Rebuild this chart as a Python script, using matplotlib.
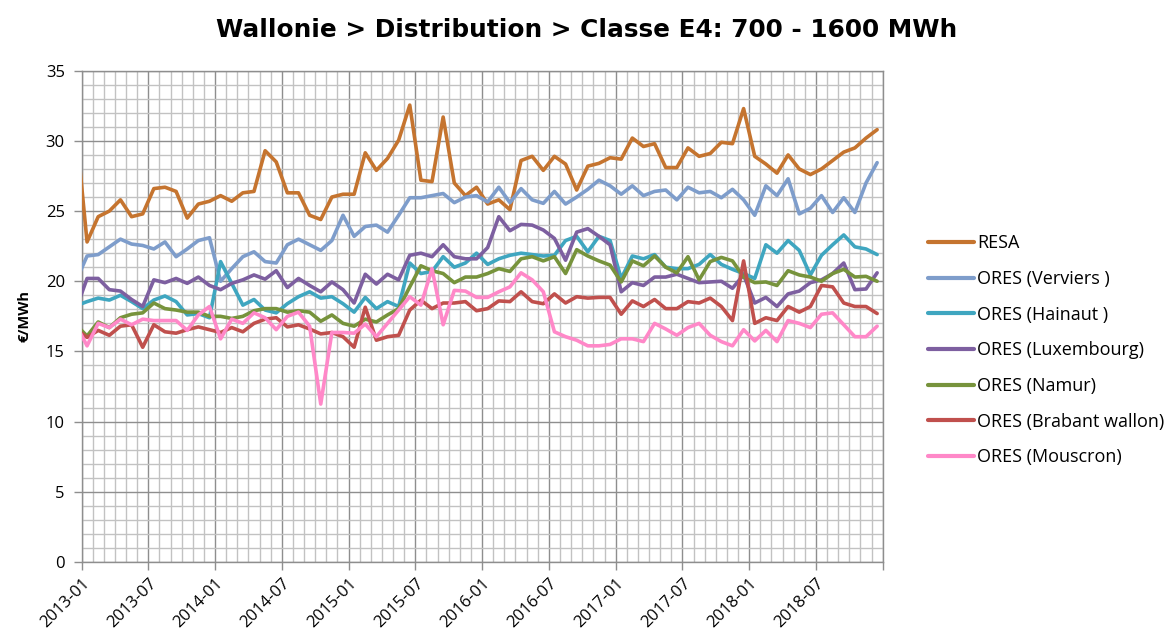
import numpy as np
import matplotlib
matplotlib.use("Agg")
import matplotlib.pyplot as plt
from matplotlib.ticker import MultipleLocator, FixedLocator

plt.rcParams['font.family'] = ['Open Sans', 'DejaVu Sans']

# Monthly values, 2012-12 .. 2018-12 (first value only enters from the left edge)
months = [f"{y}-{m:02d}" for y in range(2013, 2019) for m in range(1, 13)]
tick_labels = ["2013-01", "2013-07", "2014-01", "2014-07", "2015-01", "2015-07",
               "2016-01", "2016-07", "2017-01", "2017-07", "2018-01", "2018-07", ""]

resa = [31.0,
        22.8, 24.6, 25.0, 25.8, 24.6, 24.8, 26.6, 26.7, 26.4, 24.5, 25.5, 25.7,
        26.1, 25.7, 26.3, 26.4, 29.3, 28.5, 26.3, 26.3, 24.7, 24.4, 26.0, 26.2,
        26.2, 29.15, 27.9, 28.75, 30.05, 32.55, 27.2, 27.1, 31.7, 27.0, 26.1, 26.7,
        25.5, 25.8, 25.1, 28.6, 28.9, 27.9, 28.9, 28.35, 26.5, 28.2, 28.4, 28.8,
        28.7, 30.2, 29.6, 29.8, 28.1, 28.1, 29.5, 28.9, 29.1, 29.9, 29.8, 32.3,
        28.9, 28.35, 27.7, 29.0, 28.0, 27.6, 28.0, 28.6, 29.2, 29.5, 30.2, 30.8]

verviers = [20.0,
            21.8, 21.9, 22.45, 23.0, 22.65, 22.55, 22.3, 22.8, 21.75, 22.3, 22.9, 23.1,
            20.0, 20.9, 21.75, 22.1, 21.4, 21.3, 22.6, 23.0, 22.6, 22.2, 22.9, 24.7,
            23.2, 23.9, 24.0, 23.5, 24.7, 25.95, 25.95, 26.1, 26.25, 25.6, 26.0, 26.1,
            25.65, 26.7, 25.6, 26.6, 25.8, 25.55, 26.4, 25.5, 26.0, 26.55, 27.2, 26.8,
            26.2, 26.8, 26.1, 26.4, 26.5, 25.8, 26.7, 26.3, 26.4, 25.95, 26.55, 25.8,
            24.7, 26.8, 26.1, 27.3, 24.8, 25.2, 26.1, 24.9, 25.95, 24.9, 27.0, 28.45]

hainaut = [18.25,
           18.55, 18.8, 18.66, 19.0, 18.55, 18.05, 18.66, 18.95, 18.55, 17.6, 17.7, 17.4,
           21.4, 19.85, 18.3, 18.7, 17.95, 17.75, 18.4, 18.9, 19.25, 18.8, 18.9, 18.4,
           17.8, 18.85, 18.05, 18.55, 18.2, 21.3, 20.55, 20.7, 21.75, 21.0, 21.3, 22.0,
           21.2, 21.6, 21.85, 22.0, 21.9, 21.8, 21.85, 22.9, 23.2, 22.1, 23.2, 22.9,
           20.2, 21.8, 21.6, 21.9, 21.0, 20.9, 20.9, 21.2, 21.9, 21.2, 20.85, 20.55,
           20.2, 22.6, 22.0, 22.9, 22.2, 20.45, 21.85, 22.6, 23.3, 22.45, 22.3, 21.9]

luxembourg = [18.0,
              20.2, 20.2, 19.4, 19.3, 18.7, 18.2, 20.1, 19.9, 20.2, 19.85, 20.3, 19.7,
              19.4, 19.85, 20.1, 20.45, 20.15, 20.75, 19.55, 20.2, 19.7, 19.25, 19.95, 19.4,
              18.45, 20.5, 19.8, 20.5, 20.1, 21.85, 22.0, 21.75, 22.6, 21.75, 21.6, 21.6,
              22.4, 24.6, 23.6, 24.05, 24.0, 23.65, 23.05, 21.5, 23.5, 23.75, 23.2, 22.6,
              19.25, 19.9, 19.7, 20.3, 20.3, 20.5, 20.2, 19.9, 19.95, 20.0, 19.5, 20.45,
              18.45, 18.85, 18.2, 19.1, 19.3, 19.9, 20.1, 20.55, 21.3, 19.4, 19.45, 20.6]

namur = [16.9,
         16.1, 17.1, 16.7, 17.4, 17.65, 17.75, 18.45, 18.05, 17.95, 17.8, 17.8, 17.5,
         17.5, 17.35, 17.5, 17.9, 18.05, 18.05, 17.8, 17.9, 17.8, 17.15, 17.6, 17.0,
         16.8, 17.3, 17.1, 17.6, 18.05, 19.6, 21.1, 20.75, 20.55, 19.9, 20.3, 20.3,
         20.55, 20.9, 20.7, 21.6, 21.75, 21.45, 21.75, 20.55, 22.25, 21.8, 21.45, 21.15,
         19.95, 21.45, 21.1, 21.8, 21.0, 20.6, 21.75, 20.1, 21.4, 21.7, 21.45, 20.3,
         19.9, 19.95, 19.7, 20.75, 20.45, 20.3, 20.0, 20.55, 20.85, 20.3, 20.35, 20.0]

brabant = [16.6,
           16.0, 16.5, 16.15, 16.8, 16.9, 15.3, 16.9, 16.4, 16.3, 16.55, 16.75, 16.55,
           16.35, 16.7, 16.4, 17.0, 17.3, 17.4, 16.75, 16.9, 16.6, 16.25, 16.35, 16.05,
           15.3, 18.15, 15.8, 16.05, 16.15, 17.95, 18.65, 18.05, 18.45, 18.45, 18.55, 17.9,
           18.05, 18.6, 18.55, 19.25, 18.55, 18.4, 19.1, 18.45, 18.9, 18.8, 18.85, 18.85,
           17.65, 18.6, 18.2, 18.7, 18.05, 18.05, 18.55, 18.45, 18.8, 18.2, 17.2, 21.45,
           17.0, 17.4, 17.2, 18.2, 17.8, 18.2, 19.7, 19.6, 18.45, 18.2, 18.2, 17.7]

mouscron = [16.9,
            15.4, 17.0, 16.7, 17.3, 16.9, 17.3, 17.2, 17.2, 17.2, 16.5, 17.6, 18.2,
            15.9, 17.3, 17.0, 17.75, 17.4, 16.55, 17.5, 17.8, 16.8, 11.25, 16.35, 16.35,
            16.3, 16.95, 16.05, 17.0, 17.95, 18.9, 18.3, 20.9, 16.9, 19.35, 19.3, 18.85,
            18.85, 19.25, 19.6, 20.6, 20.1, 19.25, 16.4, 16.05, 15.8, 15.4, 15.4, 15.5,
            15.9, 15.9, 15.7, 17.0, 16.6, 16.15, 16.7, 17.0, 16.15, 15.7, 15.4, 16.55,
            15.75, 16.5, 15.7, 17.2, 17.0, 16.7, 17.65, 17.75, 16.9, 16.05, 16.05, 16.8]

series_names = ["RESA", "ORES (Verviers )", "ORES (Hainaut )", "ORES (Luxembourg)",
                "ORES (Namur)", "ORES (Brabant wallon)", "ORES (Mouscron)"]
series_values = [resa, verviers, hainaut, luxembourg, namur, brabant, mouscron]
colors = ["#C5742F", "#7E9DCB", "#3FA6C0", "#7D5FA0", "#77933C", "#C0504D", "#FF88C8"]

W, H = 1169, 632
fig = plt.figure(figsize=(W / 100, H / 100), dpi=100)
ax = fig.add_axes([81.5 / W, 1 - 562 / H, (882.7 - 81.5) / W, (562 - 70.7) / H])

x = np.arange(-1, len(months)) + 0.5
for name, vals, c in zip(series_names, series_values, colors):
    ax.plot(x, vals, color=c, lw=2.6, label=name, solid_joinstyle='round',
            solid_capstyle='round', zorder=3)

ax.set_xlim(0, 72)
ax.set_ylim(0, 35)
ax.xaxis.set_major_locator(FixedLocator(np.arange(0, 73, 6)))
ax.set_xticklabels(tick_labels)
ax.xaxis.set_minor_locator(MultipleLocator(1))
ax.yaxis.set_major_locator(MultipleLocator(5))
ax.yaxis.set_minor_locator(MultipleLocator(1))

ax.grid(which='minor', color='#C2C2C2', lw=1.0, zorder=0)
ax.grid(which='major', color='#8E8E8E', lw=1.0, zorder=0)
ax.set_axisbelow(True)

for s in ax.spines.values():
    s.set_color('#8E8E8E')
    s.set_linewidth(1.0)

ax.tick_params(axis='both', which='minor', length=0)
ax.tick_params(axis='both', which='major', length=6, color='#8E8E8E', width=1.0,
               labelsize=12, labelcolor='black')
ax.tick_params(axis='y', pad=6)
for lbl in ax.get_xticklabels():
    lbl.set_rotation(45)
    lbl.set_ha('right')
    lbl.set_va('top')
    lbl.set_rotation_mode('anchor')

ax.set_ylabel("€/MWh", fontsize=10.5, fontweight='bold', labelpad=10)

fig.suptitle("Wallonie > Distribution > Classe E4: 700 - 1600 MWh",
             x=587 / W, y=1 - 30 / H, va='center', fontsize=17.8, fontweight='bold',
             family=['DejaVu Sans'])

leg = fig.legend(loc='upper left', bbox_to_anchor=(921 / W, 1 - 227 / H),
                 frameon=False, fontsize=13, handlelength=2.55, handletextpad=0.15,
                 labelspacing=0.98, borderaxespad=0)
for line in leg.get_lines():
    line.set_linewidth(3.0)

fig.savefig("out.png", dpi=100)
